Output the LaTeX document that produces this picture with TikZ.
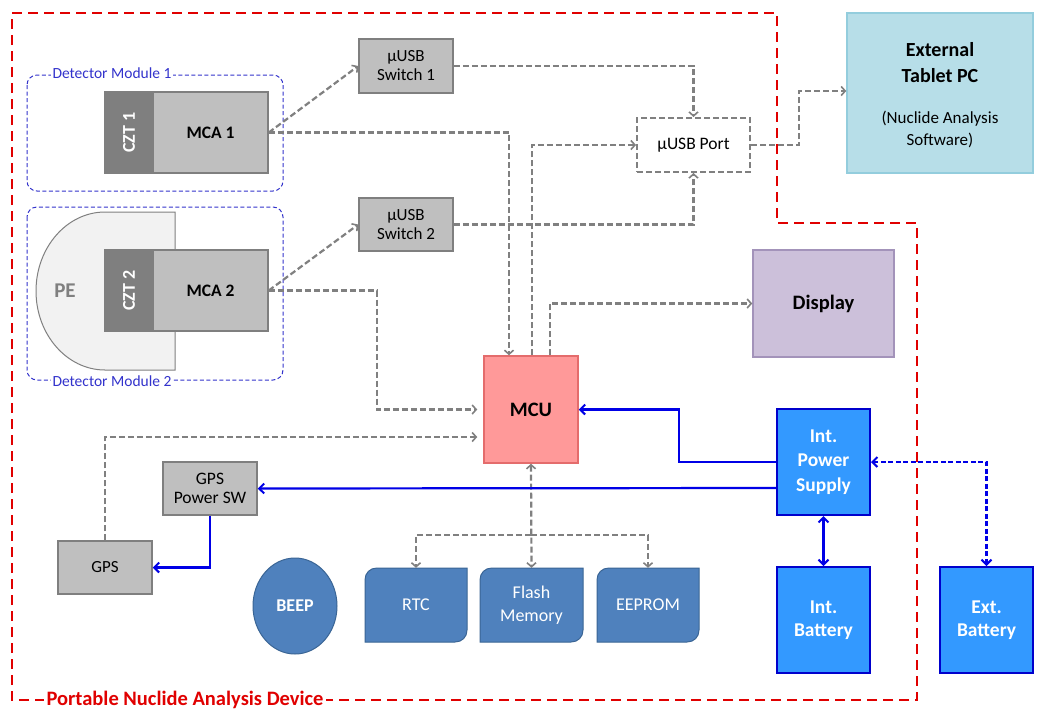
\documentclass[tikz,border=0pt]{standalone}
\usepackage{fontspec}
\setmainfont{Carlito}
\usetikzlibrary{arrows.meta,calc,shapes.geometric}
\definecolor{boxgray}{HTML}{BFBFBF}
\definecolor{bordergray}{HTML}{7F7F7F}
\definecolor{cztgray}{HTML}{7F7F7F}
\definecolor{conngray}{HTML}{808080}
\definecolor{pblue}{HTML}{0000E6}
\definecolor{modblue}{HTML}{3333CC}
\definecolor{redline}{HTML}{E00000}
\definecolor{tabfill}{HTML}{B7DEE8}
\definecolor{tabdraw}{HTML}{93CDDD}
\definecolor{dispfill}{HTML}{CCC0DA}
\definecolor{dispdraw}{HTML}{A393BA}
\definecolor{mcufill}{HTML}{FF9999}
\definecolor{mcudraw}{HTML}{E46C6C}
\definecolor{pwrfill}{HTML}{3399FF}
\definecolor{pwrdraw}{HTML}{0000CC}
\definecolor{memfill}{HTML}{4F81BD}
\definecolor{memdraw}{HTML}{3A6595}
\tikzset{
  box/.style={rectangle, inner sep=0pt, align=center, line width=1.5pt},
  gbox/.style={box, fill=boxgray, draw=bordergray, font=\fontsize{17}{19}\selectfont},
  cztbox/.style={box, fill=cztgray, draw=bordergray},
  pwrbox/.style={box, fill=pwrfill, draw=pwrdraw, line width=2pt, text=white, font=\bfseries\fontsize{19.5}{24.5}\selectfont},
  memshape/.style={fill=memfill, draw=memdraw, line width=1pt},
  memtext/.style={inner sep=0pt, align=center, text=white, font=\fontsize{18}{23}\selectfont},
  conn/.style={draw=conngray, line width=2.2pt, dash pattern=on 6pt off 3pt, -{Straight Barb[length=4pt,width=9pt,line width=1.6pt]}},
  bconn/.style={conn, {Straight Barb[length=4pt,width=9pt,line width=1.6pt]}-{Straight Barb[length=4pt,width=9pt,line width=1.6pt]}},
  pconn/.style={draw=pblue, line width=2.2pt, -{Straight Barb[length=5pt,width=10pt,line width=2pt]}},
  bpconn/.style={pconn, {Straight Barb[length=5pt,width=10pt,line width=2pt]}-{Straight Barb[length=5pt,width=10pt,line width=2pt]}},
  modbox/.style={draw=modblue, line width=1pt, dash pattern=on 4pt off 2.5pt, rounded corners=10pt},
  modlabel/.style={fill=white, inner sep=2pt, text=modblue, font=\fontsize{15.5}{17}\selectfont},
}
\begin{document}
\begin{tikzpicture}[x=1pt,y=-1pt]
\useasboundingbox[fill=white] (0,0) rectangle (1053,713);

% red device boundary
\draw[redline, line width=2.6pt, dash pattern=on 10pt off 6pt]
  (12,13) -- (777,13) -- (777,223) -- (917,223) -- (917,700) -- (12,700) -- cycle;
\node[fill=white, inner sep=3pt, text=redline, font=\bfseries\fontsize{20.5}{22}\selectfont] (devlabel) at (185,700) {Portable Nuclide Analysis Device};

% detector modules
\draw[modbox] (27,75) rectangle (283,191);
\draw[modbox] (27,207) rectangle (283,380);
\node[modlabel] (mod1) at (112,73) {Detector Module 1};
\node[modlabel] (mod2) at (112,381) {Detector Module 2};

% PE
\draw[fill=black!5, draw=gray, line width=1pt] (175,212) -- (105,212)
  .. controls (67,212) and (36,247.4) .. (36,291)
  .. controls (36,334.6) and (67,370) .. (105,370) -- (175,370) -- cycle;
\node[text=gray, font=\bfseries\fontsize{21}{23}\selectfont] (pe) at (65,291) {PE};

% CZT / MCA
\node[cztbox, minimum width=48, minimum height=81] (czt1) at (129,132.5) {};
\node[rotate=90, text=white, font=\bfseries\fontsize{18}{20}\selectfont] (czt1t) at (czt1) {CZT 1};
\node[gbox, minimum width=115, minimum height=81, font=\bfseries\fontsize{17.5}{19}\selectfont] (mca1) at (210.5,132.5) {MCA 1};
\node[cztbox, minimum width=48, minimum height=81] (czt2) at (129,290.5) {};
\node[rotate=90, text=white, font=\bfseries\fontsize{18}{20}\selectfont] (czt2t) at (czt2) {CZT 2};
\node[gbox, minimum width=115, minimum height=81, font=\bfseries\fontsize{17.5}{19}\selectfont] (mca2) at (210.5,290.5) {MCA 2};

% USB
\node[gbox, minimum width=94, minimum height=54] (sw1) at (406,66) {µUSB\\Switch 1};
\node[gbox, minimum width=94, minimum height=53] (sw2) at (406,224.5) {µUSB\\Switch 2};
\node[box, draw=conngray, line width=2pt, dash pattern=on 6pt off 3pt, minimum width=113, minimum height=54, font=\fontsize{17.5}{19}\selectfont] (port) at (693.5,145) {µUSB Port};

% external tablet
\node[box, fill=tabfill, draw=tabdraw, minimum width=186, minimum height=160] (tablet) at (940,93) {};
\node[align=center, font=\bfseries\fontsize{20}{26}\selectfont] (tabt1) at (940,63) {External\\Tablet PC};
\node[align=center, font=\fontsize{17}{22}\selectfont] (tabt2) at (940,129) {(Nuclide Analysis\\Software)};

% display, MCU
\node[box, fill=dispfill, draw=dispdraw, minimum width=141, minimum height=107, font=\bfseries\fontsize{20.5}{22}\selectfont] (display) at (823.5,303.5) {Display};
\node[box, fill=mcufill, draw=mcudraw, minimum width=94, minimum height=107, font=\bfseries\fontsize{20.5}{22}\selectfont] (mcu) at (531,409.5) {MCU};

% power
\node[pwrbox, minimum width=93, minimum height=106] (ips) at (823.5,462) {Int.\\Power\\Supply};
\node[pwrbox, minimum width=93, minimum height=106, font=\bfseries\fontsize{19.5}{23.5}\selectfont] (ibat) at (823.5,620) {Int.\\Battery};
\node[pwrbox, minimum width=93, minimum height=106, font=\bfseries\fontsize{19.5}{23.5}\selectfont] (ebat) at (986.5,620) {Ext.\\Battery};

% GPS
\node[gbox, minimum width=94, minimum height=53, font=\fontsize{17.5}{19}\selectfont] (gpssw) at (210,488.5) {GPS\\Power SW};
\node[gbox, minimum width=94, minimum height=53] (gps) at (105,567.5) {GPS};

% BEEP
\node[ellipse, fill=memfill, draw=memdraw, line width=1pt, minimum width=84, minimum height=96, inner sep=0pt, text=white, font=\bfseries\fontsize{18}{20}\selectfont] (beep) at (295,606) {BEEP};

% memories
\path[memshape] (365,642) -- (365,580) .. controls (365,573) and (370,568) .. (377,568) -- (467,568) -- (467,630) .. controls (467,637) and (462,642) .. (455,642) -- cycle;
\node[memtext, minimum width=102, minimum height=74] (rtc) at (416,605) {RTC};
\path[memshape] (480,642) -- (480,580) .. controls (480,573) and (485,568) .. (492,568) -- (583,568) -- (583,630) .. controls (583,637) and (578,642) .. (571,642) -- cycle;
\node[memtext, minimum width=103, minimum height=74] (flash) at (531.5,605) {Flash\\Memory};
\path[memshape] (597,642) -- (597,580) .. controls (597,573) and (602,568) .. (609,568) -- (699,568) -- (699,630) .. controls (699,637) and (694,642) .. (687,642) -- cycle;
\node[memtext, minimum width=102, minimum height=74] (eeprom) at (648,605) {EEPROM};

% gray connectors
\draw[conn] (mca1.east) -- (sw1.west);
\draw[conn] (mca1.east) -| ([xshift=-22pt]mcu.north);
\draw[conn] (sw1.east) -| (port.north);
\draw[conn] ([xshift=1pt]mcu.north) |- (port.west);
\draw[conn] (sw2.east) -| (port.south);
\draw[conn] (mca2.east) -- (sw2.west);
\draw[conn] (mca2.east) -- ++(108,0) |- ([xshift=-6pt]mcu.west);
\draw[conn] (gps.north) |- ([xshift=-6pt,yshift=-27.5pt]mcu.west);
\draw[conn] ([xshift=19pt]mcu.north) |- (display.west);
\draw[conn] (port.east) -- ++(48,0) |- ([yshift=2pt]tablet.west);
\draw[bconn] (mcu.south) -- (flash.north);
\coordinate (bj) at (531,535);
\draw[conn] (bj) -| (rtc.north);
\draw[conn] (bj) -| (eeprom.north);

% power connectors
\draw[pconn] (ips.west) -- ++(-97,0) |- (mcu.east);
\draw[pconn] ([yshift=-26pt]ips.west) -- (gpssw.east);
\draw[pconn] (gpssw.south) |- (gps.east);
\draw[bpconn] (ips.south) -- (ibat.north);
\draw[bpconn, dash pattern=on 5pt off 2.5pt] (ips.east) -| (ebat.north);
\end{tikzpicture}
\end{document}
